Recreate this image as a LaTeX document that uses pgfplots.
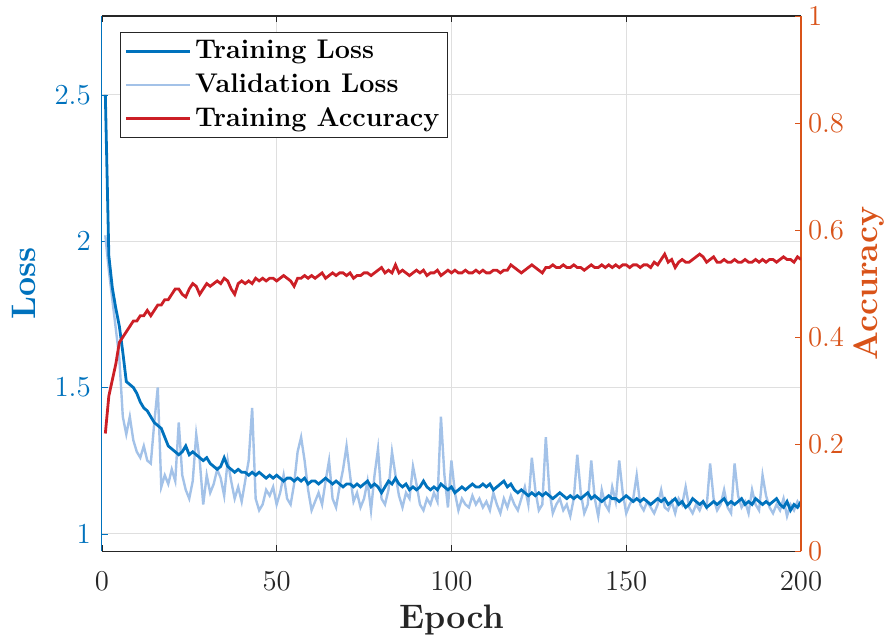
\documentclass[border=0pt]{standalone}
\usepackage{pgfplots}
\usepackage{pgfplotstable}
\pgfplotsset{compat=1.18}

\definecolor{lossblue}{rgb}{0,0.447,0.741}
\definecolor{valblue}{rgb}{0.64,0.76,0.91}
\definecolor{accred}{rgb}{0.80,0.12,0.15}
\definecolor{accorange}{rgb}{0.85,0.325,0.098}
\definecolor{axgray}{rgb}{0.15,0.15,0.15}

% epoch, training loss, validation loss, training accuracy
\pgfplotstableread{
e tl vl ta
1 2.50 2.02 0.22
2 1.95 1.90 0.29
3 1.84 1.80 0.32
4 1.77 1.70 0.35
5 1.71 1.60 0.39
6 1.62 1.40 0.40
7 1.52 1.34 0.41
8 1.51 1.40 0.42
9 1.50 1.32 0.43
10 1.48 1.28 0.43
11 1.45 1.26 0.44
12 1.43 1.30 0.44
13 1.42 1.25 0.45
14 1.40 1.24 0.44
15 1.38 1.38 0.45
16 1.37 1.50 0.46
17 1.36 1.16 0.46
18 1.33 1.20 0.47
19 1.30 1.17 0.47
20 1.29 1.22 0.48
21 1.28 1.18 0.49
22 1.27 1.38 0.49
23 1.28 1.20 0.48
24 1.30 1.15 0.475
25 1.27 1.12 0.49
26 1.28 1.18 0.50
27 1.27 1.34 0.495
28 1.26 1.25 0.48
29 1.25 1.10 0.49
30 1.26 1.20 0.50
31 1.24 1.14 0.495
32 1.23 1.17 0.50
33 1.22 1.22 0.505
34 1.23 1.19 0.50
35 1.26 1.13 0.51
36 1.23 1.25 0.505
37 1.22 1.18 0.49
38 1.21 1.12 0.48
39 1.22 1.16 0.50
40 1.21 1.11 0.505
41 1.21 1.18 0.50
42 1.20 1.25 0.505
43 1.21 1.43 0.50
44 1.20 1.12 0.51
45 1.21 1.08 0.505
46 1.20 1.10 0.51
47 1.19 1.15 0.505
48 1.20 1.13 0.51
49 1.19 1.16 0.51
50 1.20 1.10 0.505
51 1.19 1.14 0.51
52 1.18 1.20 0.515
53 1.19 1.12 0.51
54 1.19 1.10 0.505
55 1.18 1.17 0.495
56 1.19 1.28 0.51
57 1.18 1.33 0.51
58 1.19 1.25 0.515
59 1.17 1.15 0.51
60 1.18 1.08 0.515
61 1.18 1.11 0.51
62 1.17 1.14 0.515
63 1.18 1.10 0.52
64 1.19 1.18 0.51
65 1.18 1.25 0.515
66 1.17 1.12 0.52
67 1.18 1.09 0.515
68 1.17 1.16 0.52
69 1.16 1.22 0.52
70 1.17 1.30 0.515
71 1.17 1.20 0.52
72 1.16 1.11 0.51
73 1.17 1.14 0.515
74 1.16 1.09 0.515
75 1.17 1.12 0.52
76 1.18 1.18 0.52
77 1.16 1.08 0.515
78 1.17 1.20 0.52
79 1.16 1.29 0.525
80 1.14 1.12 0.53
81 1.16 1.10 0.52
82 1.18 1.15 0.525
83 1.17 1.28 0.52
84 1.19 1.20 0.535
85 1.17 1.13 0.52
86 1.16 1.09 0.525
87 1.17 1.14 0.52
88 1.15 1.12 0.515
89 1.16 1.23 0.52
90 1.15 1.17 0.525
91 1.16 1.10 0.52
92 1.18 1.08 0.525
93 1.16 1.12 0.515
94 1.15 1.10 0.52
95 1.16 1.14 0.52
96 1.15 1.11 0.525
97 1.17 1.40 0.515
98 1.16 1.20 0.52
99 1.15 1.09 0.525
100 1.16 1.25 0.52
101 1.14 1.14 0.525
102 1.15 1.08 0.52
103 1.16 1.12 0.52
104 1.15 1.10 0.525
105 1.16 1.09 0.52
106 1.17 1.13 0.52
107 1.16 1.10 0.525
108 1.16 1.12 0.52
109 1.17 1.09 0.525
110 1.16 1.11 0.52
111 1.17 1.08 0.52
112 1.15 1.14 0.525
113 1.16 1.10 0.525
114 1.17 1.07 0.52
115 1.18 1.12 0.525
116 1.16 1.09 0.525
117 1.17 1.13 0.535
118 1.15 1.10 0.53
119 1.14 1.08 0.525
120 1.15 1.12 0.52
121 1.14 1.16 0.525
122 1.13 1.10 0.53
123 1.14 1.26 0.535
124 1.13 1.15 0.53
125 1.14 1.08 0.525
126 1.13 1.10 0.52
127 1.14 1.33 0.53
128 1.13 1.15 0.53
129 1.12 1.07 0.535
130 1.13 1.10 0.53
131 1.14 1.12 0.53
132 1.13 1.08 0.535
133 1.12 1.10 0.53
134 1.13 1.06 0.53
135 1.12 1.12 0.535
136 1.13 1.27 0.53
137 1.12 1.14 0.53
138 1.13 1.07 0.525
139 1.14 1.10 0.53
140 1.12 1.25 0.535
141 1.13 1.12 0.53
142 1.12 1.06 0.53
143 1.11 1.15 0.535
144 1.12 1.10 0.53
145 1.13 1.08 0.535
146 1.12 1.16 0.53
147 1.12 1.11 0.535
148 1.11 1.25 0.53
149 1.12 1.14 0.535
150 1.13 1.07 0.535
151 1.12 1.10 0.53
152 1.11 1.12 0.535
153 1.12 1.20 0.535
154 1.11 1.10 0.53
155 1.12 1.08 0.535
156 1.11 1.11 0.535
157 1.10 1.09 0.53
158 1.11 1.07 0.54
159 1.12 1.10 0.535
160 1.11 1.15 0.545
161 1.12 1.09 0.555
162 1.10 1.08 0.54
163 1.11 1.11 0.545
164 1.12 1.07 0.53
165 1.10 1.12 0.54
166 1.11 1.10 0.545
167 1.09 1.16 0.54
168 1.10 1.09 0.54
169 1.12 1.07 0.545
170 1.11 1.10 0.55
171 1.10 1.08 0.555
172 1.11 1.11 0.55
173 1.09 1.09 0.54
174 1.10 1.24 0.545
175 1.11 1.12 0.55
176 1.10 1.08 0.54
177 1.11 1.10 0.54
178 1.12 1.15 0.545
179 1.10 1.09 0.54
180 1.11 1.07 0.54
181 1.10 1.24 0.545
182 1.11 1.13 0.54
183 1.12 1.09 0.54
184 1.10 1.11 0.545
185 1.11 1.07 0.54
186 1.10 1.15 0.54
187 1.12 1.10 0.545
188 1.11 1.08 0.54
189 1.10 1.20 0.545
190 1.11 1.13 0.54
191 1.10 1.09 0.545
192 1.11 1.07 0.545
193 1.12 1.10 0.54
194 1.10 1.08 0.545
195 1.09 1.12 0.55
196 1.11 1.06 0.545
197 1.08 1.10 0.545
198 1.10 1.08 0.54
199 1.09 1.11 0.55
200 1.11 1.09 0.545
}\trainlog

\begin{document}
\begin{tikzpicture}
\pgfplotsset{
  every axis/.append style={
    scale only axis, width=350pt, height=268pt,
    xmin=0, xmax=200,
    tick label style={font=\fontsize{14.5}{16}\selectfont},
    label style={font=\fontsize{17}{20}\selectfont\bfseries},
    major tick length=3pt,
  },
}
\begin{axis}[
  ymin=0.94, ymax=2.77,
  xtick={0,50,100,150,200},
  ytick={1,1.5,2,2.5},
  yticklabels={1,1.5,2,2.5},
  xtick pos=both, ytick pos=left,
  grid=major,
  major grid style={gray!25, line width=0.5pt},
  separate axis lines,
  x axis line style={axgray, line width=0.6pt},
  y axis line style={lossblue, line width=0.6pt},
  xtick style={axgray},
  ytick style={lossblue},
  xticklabel style={axgray, yshift=-7pt},
  yticklabel style={lossblue, xshift=-2pt},
  xlabel={Epoch}, xlabel style={axgray, yshift=0pt},
  ylabel={Loss}, ylabel style={lossblue, inner sep=6pt},
]
\addplot[valblue, line width=1.2pt] table[x=e, y=vl] {\trainlog};
\addplot[lossblue, line width=1.4pt] table[x=e, y=tl] {\trainlog};
\end{axis}
\begin{axis}[
  ymin=0, ymax=1,
  axis y line*=right,
  axis x line=none,
  ytick={0,0.2,0.4,0.6,0.8,1},
  y axis line style={accorange, line width=0.6pt},
  ytick style={accorange},
  yticklabel style={accorange},
  ylabel={Accuracy}, ylabel style={accorange, yshift=2pt},
  legend style={at={(rel axis cs:0,1)}, xshift=9pt, yshift=-8pt,
    anchor=north west, draw=axgray, line width=0.6pt,
    font=\fontsize{13.5}{15}\selectfont\bfseries,
    row sep=2pt, inner sep=2pt},
  legend cell align=left,
  legend image code/.code={\draw[#1] (0pt,0pt) -- (32pt,0pt);},
]
\addlegendimage{lossblue, line width=1.4pt}
\addlegendentry{Training Loss}
\addlegendimage{valblue, line width=1.2pt}
\addlegendentry{Validation Loss}
\addplot[accred, line width=1.4pt] table[x=e, y=ta] {\trainlog};
\addlegendentry{Training Accuracy}
\end{axis}
\end{tikzpicture}
\end{document}
